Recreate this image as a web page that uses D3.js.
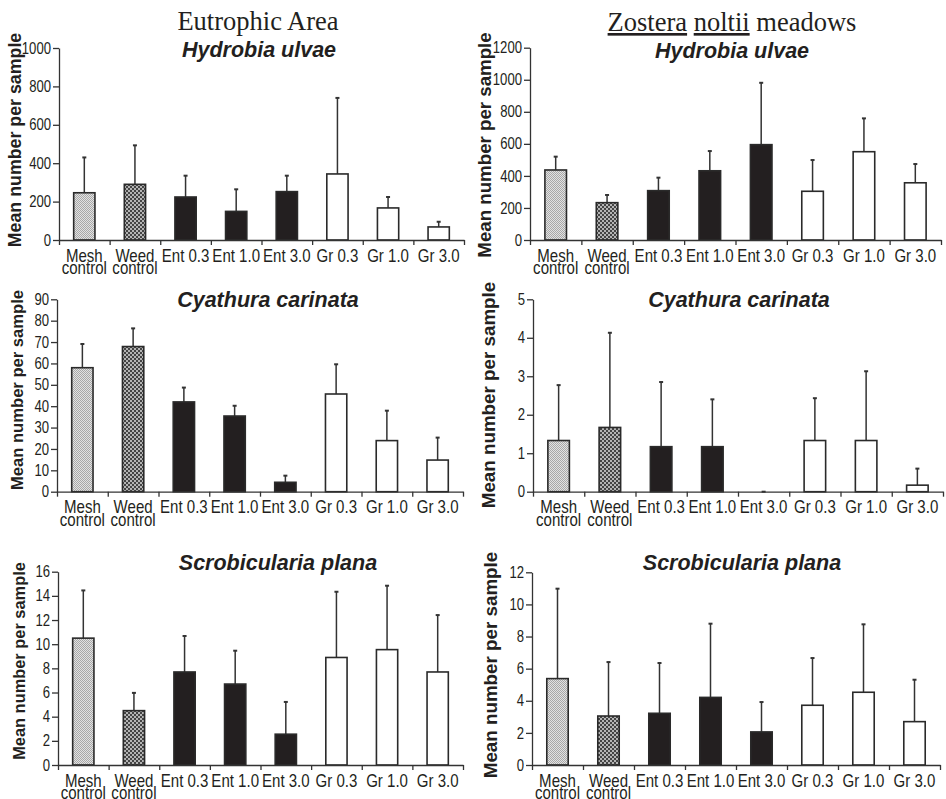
<!DOCTYPE html>
<html>
<head>
<meta charset="utf-8">
<script src="https://cdn.jsdelivr.net/npm/d3@7"></script>
<style>
body { margin: 0; background: #fff; }
text { fill: #231f20; }
</style>
</head>
<body>
<script>
// categories and values
const categories = ['Mesh control', 'Weed control', 'Ent 0.3', 'Ent 1.0', 'Ent 3.0', 'Gr 0.3', 'Gr 1.0', 'Gr 3.0']
const treatment = ['mesh', 'weed', 'ent', 'ent', 'ent', 'gr', 'gr', 'gr']

const hydrobiaEutrophic    = [246, 290, 224, 149, 252, 344, 167, 68]
const hydrobiaEutrophicSE  = [184, 203, 111, 115, 83, 396, 57, 27]
const hydrobiaZostera      = [437, 233, 308, 432, 595, 304, 551, 357]
const hydrobiaZosteraSE    = [83, 48, 81, 123, 386, 195, 208, 117]
const cyathuraEutrophic    = [58.0, 67.9, 42.0, 35.4, 4.4, 45.7, 23.9, 14.8]
const cyathuraEutrophicSE  = [11.1, 8.5, 6.7, 4.8, 3.1, 13.9, 14.0, 10.5]
const cyathuraZostera      = [1.33, 1.67, 1.17, 1.17, 0, 1.33, 1.33, 0.17]
const cyathuraZosteraSE    = [1.44, 2.46, 1.68, 1.23, 0, 1.10, 1.80, 0.43]
const scrobiculariaEutrophic   = [10.5, 4.5, 7.7, 6.7, 2.55, 8.9, 9.55, 7.7]
const scrobiculariaEutrophicSE = [3.95, 1.47, 2.98, 2.76, 2.67, 5.44, 5.29, 4.71]
const scrobiculariaZostera     = [5.38, 3.05, 3.22, 4.21, 2.06, 3.72, 4.53, 2.70]
const scrobiculariaZosteraSE   = [5.60, 3.36, 3.13, 4.59, 1.86, 2.94, 4.23, 2.61]

const width = 946, height = 799
const sans = "'Liberation Sans',Arial,sans-serif"
const serif = "'Liberation Serif','Times New Roman',serif"
// no narrow face installed, so condense the sans horizontally
const squeezeTick = 0.82
const squeezeCat = 0.86

let svg = d3.select('body').append('svg')
  .attr('width', width)
  .attr('height', height)
  .style('display', 'block')

svg.append('rect').attr('width', width).attr('height', height).attr('fill', '#fff')

// fill patterns for the two controls
let defs = svg.append('defs')
let mesh = defs.append('pattern').attr('id', 'mesh')
  .attr('width', 2).attr('height', 2).attr('patternUnits', 'userSpaceOnUse')
mesh.append('rect').attr('width', 2).attr('height', 2).attr('fill', '#e2e2e2')
mesh.append('rect').attr('width', 1).attr('height', 1).attr('fill', '#a8a8a8')
mesh.append('rect').attr('x', 1).attr('y', 1).attr('width', 1).attr('height', 1).attr('fill', '#a8a8a8')

let weed = defs.append('pattern').attr('id', 'weed')
  .attr('width', 4).attr('height', 4).attr('patternUnits', 'userSpaceOnUse')
weed.append('rect').attr('width', 4).attr('height', 4).attr('fill', '#b4b4b4')
weed.append('rect').attr('width', 2).attr('height', 2).attr('fill', '#444')
weed.append('rect').attr('x', 2).attr('y', 2).attr('width', 2).attr('height', 2).attr('fill', '#444')

const fills = { mesh: 'url(#mesh)', weed: 'url(#weed)', ent: '#231f20', gr: '#fff' }

// panel layout
const panels = [
  { means: hydrobiaEutrophic, errs: hydrobiaEutrophicSE, title: 'Hydrobia ulvae', max: 1000, step: 200,
    x0: 59, x1: 464, y0: 240, yTop: 48, subX: 259, subY: 57, labX: 15, labY: 140, labSize: 17.8 },
  { means: hydrobiaZostera, errs: hydrobiaZosteraSE, title: 'Hydrobia ulvae', max: 1200, step: 200,
    x0: 530, x1: 941, y0: 240, yTop: 47.7, subX: 732, subY: 58, labX: 484, labY: 145, labSize: 18.7 },
  { means: cyathuraEutrophic, errs: cyathuraEutrophicSE, title: 'Cyathura carinata', max: 90, step: 10,
    x0: 57, x1: 463, y0: 491.7, yTop: 299.3, subX: 268, subY: 307, labX: 17, labY: 390, labSize: 16.6 },
  { means: cyathuraZostera, errs: cyathuraZosteraSE, title: 'Cyathura carinata', max: 5, step: 1,
    x0: 533, x1: 943, y0: 491.7, yTop: 299.3, subX: 739, subY: 307, labX: 488, labY: 395, labSize: 18.8 },
  { means: scrobiculariaEutrophic, errs: scrobiculariaEutrophicSE, title: 'Scrobicularia plana', max: 16, step: 2,
    x0: 58, x1: 463, y0: 765, yTop: 571.7, subX: 278, subY: 570, labX: 19, labY: 661, labSize: 16.4 },
  { means: scrobiculariaZostera, errs: scrobiculariaZosteraSE, title: 'Scrobicularia plana', max: 12, step: 2,
    x0: 532, x1: 940, y0: 765, yTop: 572.3, subX: 742, subY: 570, labX: 490, labY: 665, labSize: 18.8 }
]

panels.forEach(p => {
  let g = svg.append('g')
  let x = d3.scaleBand().domain(categories).range([p.x0, p.x1]).paddingInner(0.58).paddingOuter(0.29)
  let edges = d3.scaleLinear().domain([0, categories.length]).range([p.x0, p.x1])
  let y = d3.scaleLinear().domain([0, p.max]).range([p.y0, p.yTop])
  let rows = categories.map((c, i) => ({ c, m: p.means[i], e: p.errs[i], t: treatment[i] }))
  let mid = d => x(d) + x.bandwidth() / 2

  // error bars (drawn first so the bar sits over the stem base)
  let eb = g.append('g').attr('stroke', '#333').attr('stroke-width', 1.5)
  eb.selectAll('line.stem').data(rows).join('line')
    .attr('x1', d => mid(d.c)).attr('x2', d => mid(d.c))
    .attr('y1', d => y(d.m)).attr('y2', d => y(d.m + d.e))
  eb.selectAll('line.cap').data(rows).join('line')
    .attr('x1', d => mid(d.c) - 2).attr('x2', d => mid(d.c) + 2)
    .attr('y1', d => y(d.m + d.e)).attr('y2', d => y(d.m + d.e))
    .attr('stroke-width', 2)

  g.selectAll('rect.bar').data(rows.filter(d => d.m > 0)).join('rect')
    .attr('x', d => x(d.c)).attr('width', x.bandwidth())
    .attr('y', d => y(d.m)).attr('height', d => p.y0 - y(d.m))
    .attr('fill', d => fills[d.t])
    .attr('stroke', '#2a2a2a').attr('stroke-width', 1.6)

  // y axis
  let ya = g.append('g').attr('transform', `translate(${p.x0},0)`)
    .call(d3.axisLeft(y).tickValues(d3.range(0, p.max + p.step / 2, p.step))
      .tickFormat(d => String(d)).tickSize(6).tickSizeOuter(0).tickPadding(2))
  ya.selectAll('text')
    .style('font-family', sans).style('font-size', '16px').attr('fill', '#231f20')
    .attr('x', -8 / squeezeTick)
    .attr('transform', `scale(${squeezeTick},1)`)

  // x axis: ticks at the category boundaries
  g.append('g').attr('transform', `translate(0,${p.y0})`)
    .call(d3.axisBottom(edges).tickValues(d3.range(0, categories.length + 1))
      .tickFormat('').tickSize(5).tickSizeOuter(0))

  g.selectAll('.domain, .tick line').attr('stroke', '#333').attr('stroke-width', 1.3)

  // category labels, one text per line
  let lines = []
  categories.forEach(c => {
    let parts = c.endsWith('control') ? [c.replace(' control', ''), 'control'] : [c]
    parts.forEach((t, i) => lines.push({ c, t, i }))
  })
  g.append('g').selectAll('text').data(lines).join('text')
    .attr('transform', d => `translate(${mid(d.c)},${p.y0 + 21.7 + d.i * 12.4})scale(${squeezeCat},1)`)
    .attr('text-anchor', 'middle')
    .style('font-family', sans).style('font-size', '17.5px')
    .text(d => d.t)

  // species subtitle
  g.append('text').attr('x', p.subX).attr('y', p.subY)
    .attr('text-anchor', 'middle')
    .style('font-family', sans).style('font-size', '21.5px')
    .style('font-weight', 'bold').style('font-style', 'italic')
    .text(p.title)

  // y label
  g.append('text')
    .attr('transform', `translate(${p.labX},${p.labY})rotate(-90)`)
    .attr('text-anchor', 'middle').attr('dominant-baseline', 'central')
    .style('font-family', sans).style('font-weight', 'bold').style('font-size', p.labSize + 'px')
    .text('Mean number per sample')
})

// column headings
svg.append('text').attr('x', 258).attr('y', 30).attr('text-anchor', 'middle')
  .style('font-family', serif).style('font-size', '26.5px')
  .text('Eutrophic Area')

let zt = svg.append('text').attr('x', 732).attr('y', 31).attr('text-anchor', 'middle')
  .style('font-family', serif).style('font-size', '26.5px')
zt.append('tspan').style('text-decoration', 'underline').text('Zostera')
zt.append('tspan').text(' ')
zt.append('tspan').style('text-decoration', 'underline').text('noltii')
zt.append('tspan').text(' meadows')
</script>
</body>
</html>
